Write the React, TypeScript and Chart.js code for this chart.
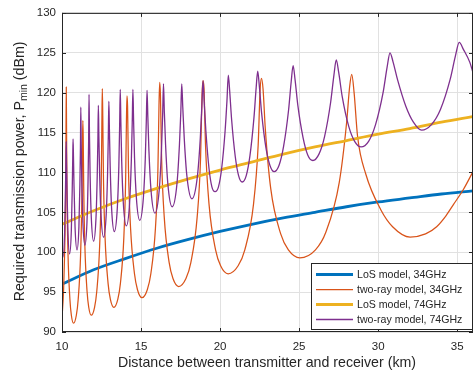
import { useEffect, useRef } from "react";
import { Chart, registerables } from "chart.js";

Chart.register(...registerables);

// ---------- data ----------
const xTicks = [10, 15, 20, 25, 30, 35];
const yTicks = [90, 95, 100, 105, 110, 115, 120, 125, 130];

const seriesNames = [
  "LoS model, 34GHz",
  "two-ray model, 34GHz",
  "LoS model, 74GHz",
  "two-ray model, 74GHz",
];

const losDistance = [10, 12, 14, 16, 18, 20, 22, 24, 26, 28, 30, 32, 34, 36];
const los34 = [96.0, 97.8, 99.2, 100.5, 101.6, 102.6, 103.5, 104.3, 105.0, 105.7, 106.3, 106.8, 107.3, 107.7];
const los74 = [103.5, 105.2, 106.7, 108.0, 109.2, 110.3, 111.3, 112.3, 113.2, 114.0, 114.8, 115.5, 116.3, 117.0];

const twoRay34: [number, number][] = [
  [10, 91.8], [10.1, 95.2], [10.16, 99.4], [10.225, 106.9], [10.252, 114.5], [10.27, 120.7],
  [10.288, 115.1], [10.316, 107.2], [10.38, 99.8], [10.5, 94.1], [10.592, 92.1], [10.73, 91.1],
  [10.907, 92.1], [11.025, 94.1], [11.178, 99.8], [11.261, 107.2], [11.296, 113.5], [11.32, 116.5],
  [11.341, 114.5], [11.373, 108.2], [11.447, 100.8], [11.585, 95.1], [11.691, 93.1], [11.85, 92.1],
  [12.06, 93.1], [12.2, 95.1], [12.382, 100.8], [12.48, 108.2], [12.522, 116.1], [12.55, 120.5],
  [12.579, 117.1], [12.623, 109.2], [12.725, 101.8], [12.915, 96.1], [13.061, 94.1], [13.28, 93.1],
  [13.529, 94.1], [13.695, 96.1], [13.911, 101.8], [14.027, 109.2], [14.077, 116.5], [14.11, 119.6],
  [14.148, 118.3], [14.205, 110.4], [14.338, 103.0], [14.585, 97.3], [14.775, 95.3], [15.06, 94.3],
  [15.396, 95.3], [15.62, 97.3], [15.911, 103.0], [16.068, 110.4], [16.135, 118.3], [16.18, 121.3],
  [16.228, 119.7], [16.3, 111.8], [16.468, 104.4], [16.78, 98.7], [17.02, 96.7], [17.38, 95.7],
  [17.842, 96.7], [18.15, 98.7], [18.55, 104.4], [18.766, 111.8], [18.858, 119.7], [18.92, 121.5],
  [18.984, 120.5], [19.079, 113.4], [19.302, 106.0], [19.715, 100.3], [20.033, 98.3], [20.51, 97.3],
  [21.143, 98.3], [21.565, 100.3], [22.114, 106.0], [22.409, 113.4], [22.536, 120.5], [22.62, 121.8],
  [22.717, 120.5], [22.863, 115.4], [23.203, 108.0], [23.835, 102.3], [24.321, 100.3], [25.05, 99.3],
  [26.034, 100.3], [26.69, 102.5], [27.543, 108.8], [28.002, 116.2], [28.199, 120.8], [28.33, 122.3],
  [28.478, 120.0], [28.699, 114.5], [29.216, 109.8], [30.175, 105.3], [30.913, 103.2], [32.02, 101.9],
  [33.0, 102.3], [33.7, 103.2], [34.3, 104.6], [34.77, 106.0], [35.4, 107.9], [36, 110.1],
];

const twoRay74: [number, number][] = [
  [10, 99.7], [10.06, 99.4],
  [10.164, 102.3], [10.217, 107.4], [10.246, 111.0], [10.267, 113.9],
  [10.288, 111.0], [10.318, 107.8], [10.374, 102.7], [10.48, 99.8],
  [10.59, 102.7], [10.647, 107.8], [10.678, 111.5], [10.7, 114.2],
  [10.725, 112.0], [10.76, 108.3], [10.825, 103.2], [10.95, 100.3],
  [11.07, 103.2], [11.132, 108.5], [11.166, 113.0], [11.19, 118.2],
  [11.216, 113.5], [11.252, 109.0], [11.32, 103.8], [11.45, 100.9],
  [11.58, 103.8], [11.648, 109.0], [11.684, 113.8], [11.71, 119.8],
  [11.739, 114.5], [11.78, 109.5], [11.855, 104.3], [12.0, 101.4],
  [12.15, 104.3], [12.228, 109.5], [12.27, 114.0], [12.3, 118.4],
  [12.333, 114.5], [12.379, 110.0], [12.465, 104.8], [12.63, 101.9],
  [12.798, 104.8], [12.885, 110.0], [12.932, 114.8], [12.965, 118.9],
  [13.0, 115.3], [13.048, 110.7], [13.138, 105.5], [13.31, 102.6],
  [13.498, 105.5], [13.595, 110.7], [13.648, 116.0], [13.685, 120.4],
  [13.724, 116.3], [13.777, 111.4], [13.878, 106.2], [14.07, 103.3],
  [14.278, 106.2], [14.385, 111.4], [14.444, 116.3], [14.485, 120.4],
  [14.529, 116.5], [14.589, 111.8], [14.703, 106.9], [14.92, 104.0],
  [15.15, 106.9], [15.27, 111.8], [15.334, 116.5], [15.38, 120.3],
  [15.43, 117.0], [15.5, 112.7], [15.63, 107.8], [15.88, 104.9],
  [16.15, 107.8], [16.29, 112.7], [16.366, 117.2], [16.42, 121.1],
  [16.475, 117.5], [16.552, 113.5], [16.695, 108.6], [16.97, 105.7],
  [17.273, 108.6], [17.43, 113.5], [17.515, 117.5], [17.575, 121.1],
  [17.64, 118.2], [17.73, 114.4], [17.898, 109.6], [18.22, 106.7],
  [18.57, 109.6], [18.752, 114.4], [18.85, 118.4], [18.92, 121.5],
  [18.996, 118.8], [19.102, 115.2], [19.3, 110.5], [19.482, 108.2], [19.68, 107.6],
  [19.898, 108.2], [20.1, 110.5], [20.318, 115.2], [20.436, 119.0], [20.52, 122.2],
  [20.608, 120.2], [20.731, 116.6], [20.96, 112.0], [21.171, 109.6], [21.4, 108.8],
  [21.655, 109.6], [21.89, 112.1], [22.145, 116.9], [22.282, 120.6], [22.38, 122.7],
  [22.484, 120.8], [22.63, 117.4], [22.9, 113.1], [23.15, 110.9], [23.42, 110.1],
  [23.732, 110.9], [24.02, 113.3], [24.332, 117.8], [24.5, 121.4], [24.62, 123.4],
  [24.745, 121.6], [24.92, 118.4], [25.245, 114.4], [25.545, 112.2], [25.87, 111.5],
  [26.255, 112.3], [26.61, 114.5], [26.995, 118.8], [27.202, 122.2], [27.35, 124.1],
  [27.507, 122.5], [27.727, 119.5], [28.135, 115.8], [28.512, 113.9], [28.92, 113.2],
  [29.396, 113.9], [29.835, 116.0], [30.311, 120.0], [30.567, 123.2], [30.75, 125.0],
  [30.95, 123.8], [31.23, 121.6], [31.75, 118.3], [32.23, 116.3], [32.75, 115.3],
  [33.369, 116.0], [33.94, 117.9], [34.559, 121.7], [34.892, 124.65], [35.13, 126.3],
  [35.4, 125.4], [35.8, 123.8], [36, 122.5],
];

// ---------- styling ----------
const COLORS = ["#0072BD", "#D95319", "#EDB120", "#7E2F8E"];
const WIDTHS = [2.8, 1.25, 2.8, 1.3];
const AXIS_COLOR = "#262626";
const FONT = "'Liberation Sans', Arial, Helvetica, sans-serif";

const decorPlugin = {
  id: "matlabDecor",
  afterDraw(chart: any) {
    const { ctx, chartArea: a, scales } = chart;
    const xs = scales.x;
    const ys = scales.y;
    ctx.save();

    // axes box
    ctx.strokeStyle = AXIS_COLOR;
    ctx.lineWidth = 1;
    ctx.strokeRect(a.left + 0.5, a.top + 0.5, a.right - a.left - 1, a.bottom - a.top - 1);

    // inward ticks
    const tl = 4;
    ctx.beginPath();
    xTicks.forEach((v) => {
      const px = Math.round(xs.getPixelForValue(v)) + 0.5;
      ctx.moveTo(px, a.bottom);
      ctx.lineTo(px, a.bottom - tl);
      ctx.moveTo(px, a.top);
      ctx.lineTo(px, a.top + tl);
    });
    yTicks.forEach((v) => {
      const py = Math.round(ys.getPixelForValue(v)) + 0.5;
      ctx.moveTo(a.left, py);
      ctx.lineTo(a.left + tl, py);
      ctx.moveTo(a.right, py);
      ctx.lineTo(a.right - tl, py);
    });
    ctx.stroke();

    // legend
    const lx0 = 311.5, ly0 = 263.5, lx1 = 472.5, ly1 = 329.5;
    ctx.fillStyle = "#ffffff";
    ctx.fillRect(lx0, ly0, lx1 - lx0, ly1 - ly0);
    ctx.strokeStyle = AXIS_COLOR;
    ctx.lineWidth = 1;
    ctx.strokeRect(lx0, ly0, lx1 - lx0, ly1 - ly0);
    ctx.font = `10.6px ${FONT}`;
    ctx.textBaseline = "middle";
    ctx.textAlign = "left";
    seriesNames.forEach((name, i) => {
      const cy = 274.5 + i * 15;
      ctx.strokeStyle = COLORS[i];
      ctx.lineWidth = WIDTHS[i];
      ctx.beginPath();
      ctx.moveTo(316, cy);
      ctx.lineTo(353, cy);
      ctx.stroke();
      ctx.fillStyle = AXIS_COLOR;
      ctx.fillText(name, 357, cy + 0.5);
    });

    // x-axis title
    ctx.fillStyle = AXIS_COLOR;
    ctx.font = `14.2px ${FONT}`;
    ctx.textAlign = "center";
    ctx.textBaseline = "middle";
    ctx.fillText("Distance between transmitter and receiver (km)", (a.left + a.right) / 2 - 0.5, 363);

    // y-axis title with subscript
    const main1 = "Required transmission power, P";
    const sub = "min";
    const main2 = " (dBm)";
    ctx.save();
    ctx.translate(20, (a.top + a.bottom) / 2 - 1);
    ctx.rotate(-Math.PI / 2);
    ctx.font = `14.2px ${FONT}`;
    const w1 = ctx.measureText(main1).width;
    const w3 = ctx.measureText(main2).width;
    ctx.font = `10.5px ${FONT}`;
    const w2 = ctx.measureText(sub).width;
    const total = w1 + w2 + w3;
    let x = -total / 2;
    ctx.textAlign = "left";
    ctx.textBaseline = "middle";
    ctx.font = `14.2px ${FONT}`;
    ctx.fillText(main1, x, 0);
    x += w1;
    ctx.font = `10.5px ${FONT}`;
    ctx.fillText(sub, x, 4.5);
    x += w2;
    ctx.font = `14.2px ${FONT}`;
    ctx.fillText(main2, x, 0);
    ctx.restore();

    ctx.restore();
  },
};

export default function App() {
  const canvasRef = useRef<HTMLCanvasElement | null>(null);

  useEffect(() => {
    document.body.style.margin = "0";
    const canvas = canvasRef.current;
    if (!canvas) return;

    const losData34 = losDistance.map((d, i) => [d, los34[i]]);
    const losData74 = losDistance.map((d, i) => [d, los74[i]]);
    const allData = [losData34, twoRay34, losData74, twoRay74];

    const datasets = allData.map((data, i) => ({
      label: seriesNames[i],
      data,
      borderColor: COLORS[i],
      backgroundColor: COLORS[i],
      borderWidth: WIDTHS[i],
      pointRadius: 0,
      pointHoverRadius: 0,
      fill: false,
      cubicInterpolationMode: "monotone",
      order: 3 - i,
    }));

    const chart = new Chart(canvas, {
      type: "line",
      data: { datasets: datasets as any },
      plugins: [decorPlugin as any],
      options: {
        animation: false,
        responsive: false,
        devicePixelRatio: 1,
        layout: { padding: { left: 0, top: 10, right: 3, bottom: 0 } },
        plugins: {
          legend: { display: false },
          tooltip: { enabled: false },
          title: { display: false },
        },
        scales: {
          x: {
            type: "linear",
            min: 10,
            max: 36,
            afterBuildTicks: (s: any) => {
              s.ticks = xTicks.map((v) => ({ value: v }));
            },
            afterFit: (s: any) => {
              s.height = 42;
            },
            grid: { color: "#e1e1e1", lineWidth: 1, drawTicks: false },
            border: { display: false },
            ticks: {
              padding: 8,
              color: AXIS_COLOR,
              font: { family: FONT, size: 11.5 },
              maxRotation: 0,
              autoSkip: false,
            },
          },
          y: {
            type: "linear",
            min: 90,
            max: 130,
            afterBuildTicks: (s: any) => {
              s.ticks = yTicks.map((v) => ({ value: v }));
            },
            afterFit: (s: any) => {
              s.width = 62;
            },
            grid: { color: "#e1e1e1", lineWidth: 1, drawTicks: false },
            border: { display: false },
            ticks: {
              padding: 6,
              color: AXIS_COLOR,
              font: { family: FONT, size: 11.5 },
              autoSkip: false,
            },
          },
        },
      },
    });

    return () => chart.destroy();
  }, []);

  return (
    <canvas
      ref={canvasRef}
      width={476}
      height={374}
      style={{ display: "block", width: 476, height: 374 }}
    />
  );
}
